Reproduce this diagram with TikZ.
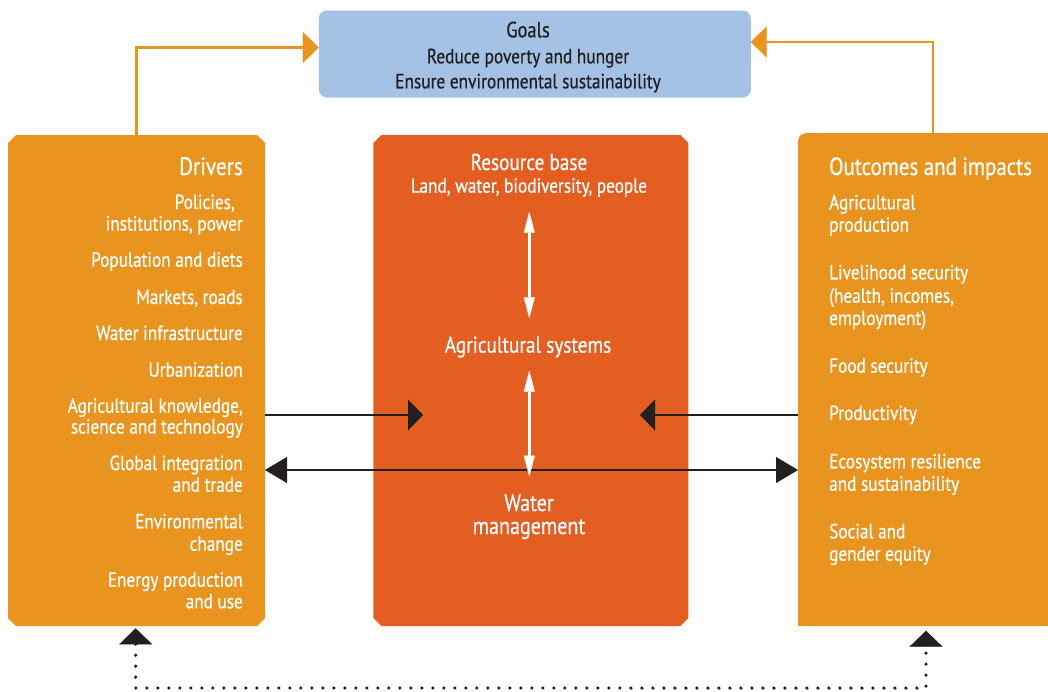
\documentclass[tikz,border=0pt]{standalone}
\usepackage{fontspec}
\usetikzlibrary{arrows.meta,calc}
\newfontfamily\cf[FakeStretch=0.84,FakeBold=0.6]{PT Sans}
\definecolor{cOr}{HTML}{E8941E}
\definecolor{cRd}{HTML}{E35E20}
\definecolor{cBl}{HTML}{A3C2E6}
\definecolor{cDk}{HTML}{231F20}
\newcommand{\fs}[1]{\cf\fontsize{#1}{#1}\selectfont}
\newcommand{\chamfill}[3]{%
  \fill[#1] ($(#2.north west)+(0,#3)$) -- ($(#2.north west)+(#3,0)$)
   -- ($(#2.north east)+(-#3,0)$) -- ($(#2.north east)+(0,#3)$)
   -- ($(#2.south east)+(0,-#3)$) -- ($(#2.south east)+(-#3,0)$)
   -- ($(#2.south west)+(#3,0)$) -- ($(#2.south west)+(0,-#3)$) -- cycle;}
\begin{document}
\begin{tikzpicture}[x=1pt,y=-1pt,
  geo/.style={inner sep=0pt, outer sep=0pt, draw=none},
  wr/.style={inner sep=0pt, text=white, anchor=base east, font=\fs{20.5}},
  wl/.style={inner sep=0pt, text=white, anchor=base west, font=\fs{20.5}},
  wc/.style={inner sep=0pt, text=white, anchor=base},
  dk/.style={inner sep=0pt, text=cDk, anchor=base},
  oarr/.style={draw=cOr, line width=2.2pt, -{Triangle[length=16pt,width=31pt,line width=0.3pt]}},
  karr/.style={draw=cDk, line width=2pt, -{Triangle[length=15pt,width=31pt,line width=0.3pt]}},
  kdbl/.style={draw=cDk, line width=2pt, {Triangle[length=22pt,width=26pt,line width=0.3pt]}-{Triangle[length=22pt,width=26pt,line width=0.3pt]}},
  warr/.style={draw=white, line width=2.5pt, {Triangle[length=21pt,width=11pt,line width=0.3pt]}-{Triangle[length=21pt,width=11pt,line width=0.3pt]}},
  dotarr/.style={draw=cDk, line width=3.6pt, line cap=round, dash pattern=on 0pt off 11pt, {Triangle[length=16pt,width=33pt,line width=0.3pt]}-{Triangle[length=16pt,width=33pt,line width=0.3pt]}},
]
\useasboundingbox (0,0) rectangle (1048,691);
\fill[white] (0,0) rectangle (1048,691);

% geometry nodes
\node[geo, minimum width=432pt, minimum height=87pt] (goals) at (534.8,54) {};
\node[geo, minimum width=257pt, minimum height=491pt] (drv) at (136.5,380.5) {};
\node[geo, minimum width=315pt, minimum height=491pt] (ctr) at (530.8,380.5) {};
\node[geo, minimum width=250pt, minimum height=493pt] (out) at (923,379.7) {};

% box fills
\fill[cBl, rounded corners=8pt] (goals.north west) rectangle (goals.south east);
\chamfill{cOr}{drv}{8}
\chamfill{cRd}{ctr}{8}
\fill[cOr, rounded corners=8pt] (out.north west) rectangle (out.south east);
\fill[cOr] (out.west) rectangle (out.south east);
\fill[cOr] (out.north) rectangle (out.south east);

% goals text
\node[dk, font=\fs{22}] (g0) at (528,37.3) {Goals};
\node[dk, font=\fs{20.6}] (g1) at (528,63.3) {Reduce poverty and hunger};
\node[dk, font=\fs{20.6}] (g2) at (528,88.3) {Ensure environmental sustainability};

% drivers text
\node[wr, font=\fs{25.2}] (d0) at (243,175) {Drivers};
\node[wr] (d1) at (235,209) {Policies,};
\node[wr] (d2) at (243,230.5) {institutions, power};
\node[wr] (d3) at (243,266.7) {Population and diets};
\node[wr] (d4) at (243,304) {Markets, roads};
\node[wr] (d5) at (243,340) {Water infrastructure};
\node[wr] (d6) at (243,376.7) {Urbanization};
\node[wr] (d7) at (243,412.7) {Agricultural knowledge,};
\node[wr] (d8) at (243,433.5) {science and technology};
\node[wr] (d9) at (243,470) {Global integration};
\node[wr] (d10) at (243,491.7) {and trade};
\node[wr] (d11) at (243,528.3) {Environmental};
\node[wr] (d12) at (243,550.7) {change};
\node[wr] (d13) at (243,586.7) {Energy production};
\node[wr] (d14) at (243,608.3) {and use};

% center text
\node[wc, font=\fs{22.9}] (c0) at (529,170) {Resource base};
\node[wc, font=\fs{20.5}] (c1) at (529,192.7) {Land, water, biodiversity, people};
\node[wc, font=\fs{22.9}] (c2) at (528,352.7) {Agricultural systems};
\node[wc, font=\fs{23.9}] (c3) at (529,511) {Water};
\node[wc, font=\fs{23.9}] (c4) at (529,534) {management};

% outcomes text
\node[wl, font=\fs{24.9}] (o0) at (829,175) {Outcomes and impacts};
\node[wl] (o1) at (829,209.3) {Agricultural};
\node[wl] (o2) at (829,231.7) {production};
\node[wl] (o3) at (829,279.3) {Livelihood security};
\node[wl] (o4) at (829,302.7) {(health, incomes,};
\node[wl] (o5) at (829,325) {employment)};
\node[wl] (o6) at (829,372.7) {Food security};
\node[wl] (o7) at (829,420) {Productivity};
\node[wl] (o8) at (829,468.3) {Ecosystem resilience};
\node[wl] (o9) at (829,490.7) {and sustainability};
\node[wl] (o10) at (829,538.3) {Social and};
\node[wl] (o11) at (829,560.7) {gender equity};

% orange arrows to goals
\draw[oarr] (drv.north) |- ($(goals.west)+(0,-6.5)$);
\draw[oarr] ($(out.north)+(10,0)$) |- ($(goals.east)+(0,-12)$);

% black arrows
\coordinate (t1) at (423,415);
\coordinate (t2) at (640,415);
\coordinate (h) at (0,470);
\draw[karr] (drv.east |- t1) -- (t1);
\draw[karr] (out.west |- t2) -- (t2);
\draw[kdbl] (drv.east |- h) -- (out.west |- h);

% white arrows
\coordinate (w1a) at (529.3,211.7);
\coordinate (w1b) at (529.3,318.3);
\coordinate (w2a) at (529.3,370.7);
\coordinate (w2b) at (529.3,476.7);
\draw[warr] (w1a) -- (w1b);
\draw[warr] (w2a) -- (w2b);

% dotted feedback
\coordinate (dl) at (135.7,628.3);
\coordinate (c1) at (135.7,688);
\coordinate (c2) at (926,688);
\coordinate (dr) at (926,630.7);
\draw[dotarr] (dl) -- (c1) -- (c2) -- (dr);
\end{tikzpicture}
\end{document}
